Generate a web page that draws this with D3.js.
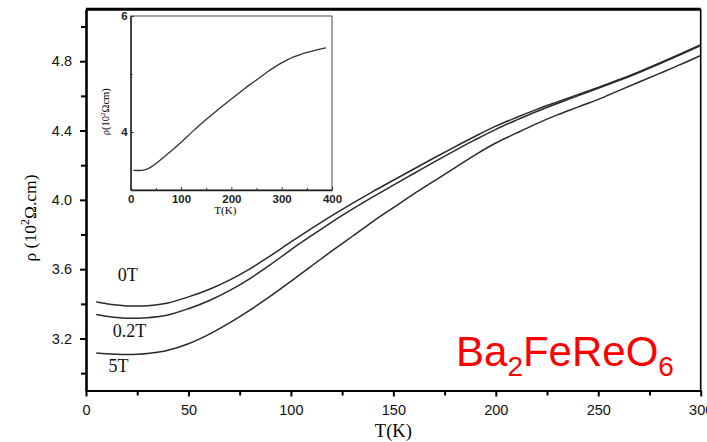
<!DOCTYPE html>
<html>
<head>
<meta charset="utf-8">
<script src="https://cdn.jsdelivr.net/npm/d3@7"></script>
<style>
  html, body { margin: 0; padding: 0; background: #fff; }
  svg { display: block; }
  .tick text { font-family: "Liberation Sans", Arial, sans-serif; }
</style>
</head>
<body>
<svg id="chart" width="707" height="442"></svg>
<script>
// Temperature grid (K) for the main resistivity curves
const temps = [5,10,15,20,25,30,40,50,60,70,80,90,100,110,120,130,140,150,160,170,180,190,200,210,220,230,240,250,260,270,280,290,300];

// Resistivity (10^2 Ω.cm) in three applied fields
const rho0T = [3.412,3.401,3.393,3.388,3.387,3.389,3.405,3.440,3.483,3.537,3.602,3.677,3.757,3.834,3.909,3.980,4.048,4.113,4.178,4.243,4.306,4.367,4.425,4.475,4.522,4.565,4.607,4.648,4.693,4.740,4.790,4.842,4.895];
const rho02T = [3.338,3.328,3.321,3.317,3.317,3.320,3.336,3.372,3.418,3.476,3.546,3.626,3.712,3.793,3.872,3.946,4.017,4.085,4.152,4.219,4.284,4.347,4.407,4.460,4.510,4.556,4.600,4.643,4.688,4.735,4.785,4.837,4.890];
const rho5T = [3.117,3.112,3.109,3.108,3.109,3.113,3.132,3.170,3.224,3.290,3.364,3.444,3.530,3.618,3.705,3.790,3.875,3.955,4.035,4.110,4.185,4.260,4.328,4.385,4.440,4.490,4.535,4.580,4.630,4.680,4.730,4.780,4.833];

const seriesNames = ["0T", "0.2T", "5T"];

// Zero-field curve over a wider temperature range (inset)
const insetTemps = [5,15,28,40,52,65,79,90,102,114,125,135,145,160,179,192,205,215,225,238,252,262,272,285,299,312,325,338,352,370,388];
const insetRho = [3.338,3.335,3.340,3.390,3.470,3.560,3.660,3.745,3.835,3.935,4.025,4.105,4.180,4.290,4.425,4.515,4.600,4.670,4.740,4.825,4.910,4.975,5.040,5.115,5.190,5.250,5.300,5.340,5.375,5.415,5.452];

const xTicks = [0,50,100,150,200,250,300];
const xMinor = [25,75,125,175,225,275];
const yTicks = [3.2,3.6,4.0,4.4,4.8];
const yMinor = [3.0,3.4,3.8,4.2,4.6,5.0];
const insetXTicks = [0,100,200,300,400];
const insetXMinor = [50,150,250,350];
const insetYTicks = [4,6];
const insetYMinor = [5];

const svg = d3.select("#chart");

// ---------- main panel ----------
const x = d3.scaleLinear().domain([0, 300]).range([86, 700.7]);
const y = d3.scaleLinear().domain([2.9, 5.1]).range([390.5, 9.2]);

const lineGen = d3.line()
  .x(d => x(d[0])).y(d => y(d[1]))
  .curve(d3.curveCatmullRom.alpha(0.5));

[rho0T, rho02T, rho5T].forEach(vals => {
  svg.append("path")
    .datum(temps.map((t, i) => [t, vals[i]]))
    .attr("fill", "none")
    .attr("stroke", "#2a2a2a")
    .attr("stroke-width", 1.5)
    .attr("d", lineGen);
});

// frame: top (heavy) and right edges
svg.append("line").attr("x1", x(0)).attr("x2", x(300)).attr("y1", y(5.1)).attr("y2", y(5.1))
  .attr("stroke", "#000").attr("stroke-width", 3);
svg.append("line").attr("x1", x(300)).attr("x2", x(300)).attr("y1", y(5.1)).attr("y2", y(2.9))
  .attr("stroke", "#000").attr("stroke-width", 1.6);

// bottom axis
const xAxis = svg.append("g").attr("transform", `translate(0,${y(2.9)})`)
  .call(d3.axisBottom(x).tickValues(xTicks).tickFormat(d3.format("d")).tickSize(6).tickSizeOuter(0).tickPadding(8));
svg.append("g").attr("transform", `translate(0,${y(2.9)})`)
  .call(d3.axisBottom(x).tickValues(xMinor).tickFormat("").tickSize(5).tickSizeOuter(0))
  .select(".domain").remove();

// left axis
const yAxis = svg.append("g").attr("transform", `translate(${x(0)},0)`)
  .call(d3.axisLeft(y).tickValues(yTicks).tickFormat(d3.format(".1f")).tickSize(6).tickSizeOuter(0).tickPadding(8));
svg.append("g").attr("transform", `translate(${x(0)},0)`)
  .call(d3.axisLeft(y).tickValues(yMinor).tickFormat("").tickSize(5).tickSizeOuter(0))
  .select(".domain").remove();

svg.selectAll(".tick line").attr("stroke", "#000").attr("stroke-width", 2);
xAxis.select(".domain").attr("stroke", "#000").attr("stroke-width", 2.2);
yAxis.select(".domain").attr("stroke", "#000").attr("stroke-width", 2.6);
xAxis.selectAll(".tick text").attr("font-size", 14.5).attr("fill", "#111");
yAxis.selectAll(".tick text").attr("font-size", 14.5).attr("fill", "#111");

// axis titles
svg.append("text").attr("x", x(150)).attr("y", 437)
  .attr("text-anchor", "middle")
  .attr("font-family", "'Liberation Serif', 'Times New Roman', serif")
  .attr("font-size", 18.5).text("T(K)");

const yTitle = svg.append("text")
  .attr("transform", `translate(36,218) rotate(-90)`)
  .attr("text-anchor", "middle")
  .attr("font-family", "'Liberation Serif', 'Times New Roman', serif")
  .attr("font-size", 17.5);
yTitle.append("tspan").text("ρ (10");
yTitle.append("tspan").attr("dy", -7).attr("font-size", 12).text("2");
yTitle.append("tspan").attr("dy", 7).text("Ω.cm)");

// field labels
const labelPos = [[15.5, 3.533], [13, 3.209], [11, 3.007]];
seriesNames.forEach((name, i) => {
  svg.append("text")
    .attr("x", x(labelPos[i][0])).attr("y", y(labelPos[i][1]))
    .attr("font-family", "'Liberation Serif', 'Times New Roman', serif")
    .attr("font-size", 18).attr("fill", "#111")
    .text(name);
});

// compound name
const formula = svg.append("text")
  .attr("x", 456).attr("y", 366)
  .attr("font-family", "'Liberation Sans', Arial, sans-serif")
  .attr("font-size", 42).attr("fill", "#ff0000");
formula.append("tspan").text("Ba");
formula.append("tspan").attr("font-size", 28).attr("dy", 10).text("2");
formula.append("tspan").attr("dy", -10).text("FeReO");
formula.append("tspan").attr("font-size", 28).attr("dy", 10).text("6");

// ---------- inset ----------
const ix = d3.scaleLinear().domain([0, 400]).range([130.7, 332]);
const iy = d3.scaleLinear().domain([3, 6]).range([190, 16]);

svg.append("rect").attr("x", ix(0)).attr("y", iy(6)).attr("width", ix(400) - ix(0)).attr("height", iy(3) - iy(6))
  .attr("fill", "#fff").attr("stroke", "#444").attr("stroke-width", 1);

svg.append("path")
  .datum(insetTemps.map((t, i) => [t, insetRho[i]]))
  .attr("fill", "none").attr("stroke", "#333").attr("stroke-width", 1.3)
  .attr("d", d3.line().x(d => ix(d[0])).y(d => iy(d[1])).curve(d3.curveBasis));

const ixAxis = svg.append("g").attr("transform", `translate(0,${iy(3)})`)
  .call(d3.axisBottom(ix).tickValues(insetXTicks).tickFormat(d3.format("d")).tickSizeInner(-3).tickSizeOuter(0).tickPadding(5));
svg.append("g").attr("transform", `translate(0,${iy(3)})`)
  .call(d3.axisBottom(ix).tickValues(insetXMinor).tickFormat("").tickSizeInner(-2).tickSizeOuter(0))
  .select(".domain").remove();
const iyAxis = svg.append("g").attr("transform", `translate(${ix(0)},0)`)
  .call(d3.axisLeft(iy).tickValues(insetYTicks).tickFormat(d3.format("d")).tickSizeInner(-3).tickSizeOuter(0).tickPadding(3));
svg.append("g").attr("transform", `translate(${ix(0)},0)`)
  .call(d3.axisLeft(iy).tickValues(insetYMinor).tickFormat("").tickSizeInner(-2).tickSizeOuter(0))
  .select(".domain").remove();

[ixAxis, iyAxis].forEach(g => {
  g.select(".domain").attr("stroke", "#222").attr("stroke-width", 1.3);
  g.selectAll(".tick text").attr("font-size", 11.5).attr("font-weight", "bold").attr("fill", "#222");
});
svg.selectAll(".tick line").filter(function () { return !this.getAttribute("stroke-width"); })
  .attr("stroke", "#333");

svg.append("text").attr("x", ix(200) - 6).attr("y", 214)
  .attr("text-anchor", "middle")
  .attr("font-family", "'Liberation Serif', 'Times New Roman', serif")
  .attr("font-size", 11).text("T(K)");

const iyTitle = svg.append("text")
  .attr("transform", `translate(109,${iy(4.35)}) rotate(-90)`)
  .attr("text-anchor", "middle")
  .attr("font-family", "'Liberation Serif', 'Times New Roman', serif")
  .attr("font-size", 10.5);
iyTitle.append("tspan").text("ρ(10");
iyTitle.append("tspan").attr("dy", -4).attr("font-size", 7).text("2");
iyTitle.append("tspan").attr("dy", 4).text("Ωcm)");
</script>
</body>
</html>
